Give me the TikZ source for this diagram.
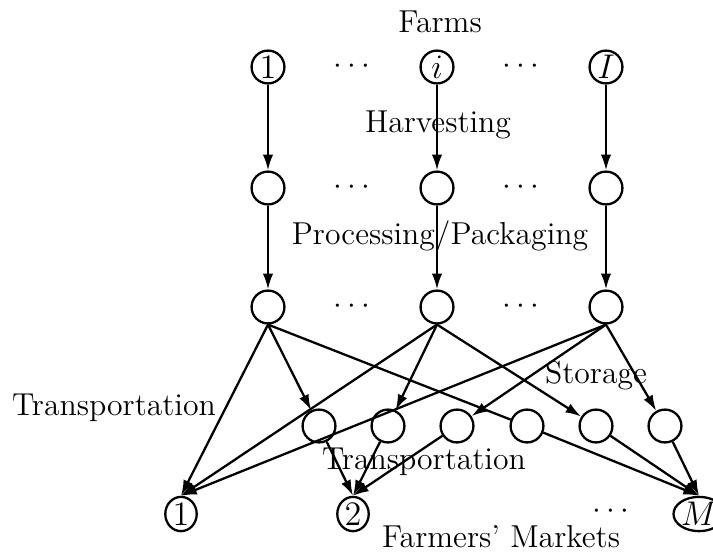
\documentclass[tikz,border=0pt]{standalone}
\usetikzlibrary{arrows.meta,shapes.geometric}
\begin{document}
\begin{tikzpicture}[x=0.35pt,y=-0.35pt,
  every node/.style={font=\fontsize{11.1}{13}\selectfont},
  stage/.style={circle,draw,line width=0.8pt,minimum size=11.5pt,inner sep=0pt,font=\fontsize{12}{13}\selectfont},
  market/.style={ellipse,draw,line width=0.8pt,minimum width=11pt,minimum height=12pt,inner sep=0pt,font=\fontsize{12}{13}\selectfont},
  flow/.style={line width=0.8pt,-{Latex[length=5.5pt,width=3.6pt]}},
  plain/.style={line width=0.8pt},
  lbl/.style={inner sep=0pt}]
\useasboundingbox (0,0) rectangle (713,554);
% farms
\node[stage] (F1) at (268,67) {1};
\node[stage] (Fi) at (437,67) {$i$};
\node[stage] (FI) at (606,67) {$I$};
% harvested
\node[stage] (H1) at (268,188) {};
\node[stage] (Hi) at (437,188) {};
\node[stage] (HI) at (606,188) {};
% processed
\node[stage] (P1) at (268,307) {};
\node[stage] (Pi) at (437,307) {};
\node[stage] (PI) at (606,307) {};
% storage
\node[stage] (S1) at (319,426) {};
\node[stage] (S2) at (388,426) {};
\node[stage] (S3) at (457,426) {};
\node[stage] (S4) at (527,426) {};
\node[stage] (S5) at (596,426) {};
\node[stage] (S6) at (665,426) {};
% markets
\node[market] (M1) at (181,514) {1};
\node[market] (M2) at (353,514) {2};
\node[market] (MM) at (699,514) {$M$};
% dots
\node (d1) at (352,67) {$\cdots$};
\node (d2) at (521,67) {$\cdots$};
\node (d3) at (352,188) {$\cdots$};
\node (d4) at (521,188) {$\cdots$};
\node (d5) at (352,307) {$\cdots$};
\node (d6) at (521,307) {$\cdots$};
\node (d7) at (611,512) {$\cdots$};
% labels
\node[lbl] (tFarms) at (440,22) {Farms};
\node[lbl] (tHarv) at (438,125) {Harvesting};
\node[lbl] (tProc) at (440,237) {Processing/Packaging};
\node[lbl] (tStor) at (596,376) {Storage};
\node[lbl] (tTr1) at (114,408) {Transportation};
\node[lbl] (tTr2) at (424,462) {Transportation};
\node[lbl] (tMk) at (501,537) {Farmers' Markets};
% edges
\draw[flow] (F1) -- (H1);
\draw[flow] (Fi) -- (Hi);
\draw[flow] (FI) -- (HI);
\draw[flow] (H1) -- (P1);
\draw[flow] (Hi) -- (Pi);
\draw[flow] (HI) -- (PI);
\draw[flow] (P1.south) -- (M1.north);
\draw[flow] (P1.south) -- (S1);
\draw[plain] (P1.south) -- (S4);
\draw[flow] (Pi.south) -- (M1.north);
\draw[flow] (Pi.south) -- (S2);
\draw[flow] (Pi.south) -- (S5);
\draw[flow] (PI.south) -- (M1.north);
\draw[flow] (PI.south) -- (S3);
\draw[flow] (PI.south) -- (S6);
\draw[flow] (S1) -- (M2.north);
\draw[flow] (S2) -- (M2.north);
\draw[flow] (S3) -- (M2.north);
\draw[flow] (S4) -- (MM.north);
\draw[flow] (S5) -- (MM.north);
\draw[flow] (S6) -- (MM.north);
\end{tikzpicture}
\end{document}
